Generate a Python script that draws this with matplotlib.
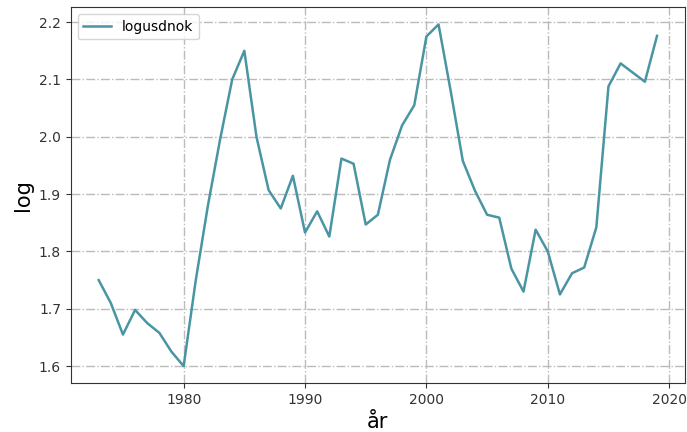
import matplotlib.pyplot as plt

# USD/NOK exchange rate on log scale, yearly
years = list(range(1973, 2020))
logusdnok = [1.750, 1.710, 1.655, 1.698, 1.675, 1.658, 1.625, 1.600,
             1.750, 1.880, 1.995, 2.100, 2.150, 2.000, 1.907, 1.875,
             1.932, 1.833, 1.870, 1.826, 1.962, 1.953, 1.847, 1.864,
             1.960, 2.020, 2.055, 2.175, 2.196, 2.080, 1.958, 1.906,
             1.864, 1.859, 1.770, 1.730, 1.838, 1.800, 1.725, 1.762,
             1.772, 1.842, 2.088, 2.128, 2.112, 2.096, 2.176]

fig = plt.figure(figsize=(6.87, 4.32), dpi=100)
ax = fig.add_axes([0.103, 0.113, 0.894, 0.870])

ax.plot(years, logusdnok, color='#4a95a3', lw=1.8, label='logusdnok')

ax.set_yticks([1.6, 1.7, 1.8, 1.9, 2.0, 2.1, 2.2])
ax.set_xticks([1980, 1990, 2000, 2010, 2020])
ax.grid(True, linestyle='-.', color='#bbbbbb', lw=1)
ax.tick_params(labelsize=10, colors='#333333')
for s in ax.spines.values():
    s.set_color('#333333')

ax.set_xlabel('år', fontsize=15)
ax.set_ylabel('log', fontsize=15)
ax.legend(loc='upper left')

fig.savefig('out.png', dpi=100)
